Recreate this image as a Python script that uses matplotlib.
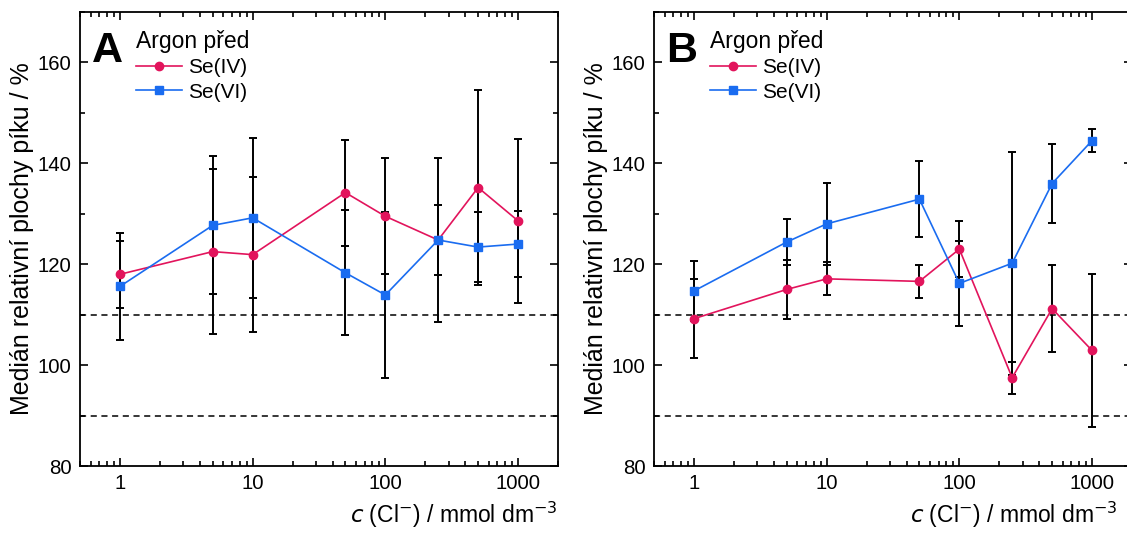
import numpy as np
import matplotlib.pyplot as plt
from matplotlib.ticker import LogLocator, MultipleLocator, FixedLocator, NullFormatter

plt.rcParams['font.family'] = ['Liberation Sans', 'DejaVu Sans']

conc = [1, 5, 10, 50, 100, 250, 500, 1000]

# panel A
a_se4 = [118.0, 122.5, 121.9, 134.2, 129.5, 124.8, 135.2, 128.6]
a_se4_err = [6.6, 16.4, 15.4, 10.5, 11.5, 16.2, 19.4, 16.2]
a_se6 = [115.6, 127.7, 129.2, 118.3, 113.9, 124.8, 123.4, 124.0]
a_se6_err = [10.6, 13.7, 15.8, 12.4, 16.4, 7.0, 6.9, 6.6]

# panel B
b_se4 = [109.2, 115.0, 117.1, 116.6, 123.0, 97.5, 111.2, 102.9]
b_se4_err = [7.8, 5.8, 3.3, 3.3, 5.5, 3.2, 8.6, 15.2]
b_se6 = [114.7, 124.4, 128.0, 132.9, 116.2, 120.2, 136.0, 144.5]
b_se6_err = [5.9, 4.6, 8.1, 7.6, 8.4, 22.1, 7.8, 2.3]

limits = [90, 110]
panels = [("A", a_se4, a_se4_err, a_se6, a_se6_err),
          ("B", b_se4, b_se4_err, b_se6, b_se6_err)]

red = "#E2145C"
blue = "#1A6CF0"

fig = plt.figure(figsize=(11.27, 5.49), dpi=100)
W, H = 1127, 549
boxes = [(80, 558), (654, 1132)]
top, bottom = 12, 466

for i, ((letter, s4, e4, s6, e6), (xl, xr)) in enumerate(zip(panels, boxes)):
    ax = fig.add_axes([xl / W, (H - bottom) / H, (xr - xl) / W, (bottom - top) / H])
    ax.set_xscale("log")
    ax.set_xlim(0.5, 2000)
    ax.set_ylim(80, 170)

    for lim in limits:
        ax.axhline(lim, color="black", lw=1.1, ls=(0, (4, 3)), zorder=1)

    ax.errorbar(conc, s4, yerr=e4, fmt="none", ecolor="black", elinewidth=1.4,
                capsize=3.2, capthick=1.4, zorder=2)
    ax.errorbar(conc, s6, yerr=e6, fmt="none", ecolor="black", elinewidth=1.4,
                capsize=3.2, capthick=1.4, zorder=2)
    ax.plot(conc, s4, color=red, lw=1.2, marker="o", ms=6, label="Se(IV)", zorder=3)
    ax.plot(conc, s6, color=blue, lw=1.2, marker="s", ms=5.2, label="Se(VI)", zorder=3)

    ax.yaxis.set_major_locator(FixedLocator([80, 100, 120, 140, 160]))
    ax.yaxis.set_minor_locator(MultipleLocator(10))
    ax.xaxis.set_major_locator(FixedLocator([1, 10, 100, 1000]))
    ax.set_xticklabels(["1", "10", "100", "1000"])
    ax.xaxis.set_minor_locator(LogLocator(base=10, subs=np.arange(2, 10)))
    ax.xaxis.set_minor_formatter(NullFormatter())
    ax.tick_params(which="both", direction="in", top=True, right=True, width=1.2)
    ax.tick_params(which="major", length=6, labelsize=14.7, pad=6)
    ax.tick_params(which="minor", length=3.5)
    for sp in ax.spines.values():
        sp.set_linewidth(1.3)

    ax.set_ylabel("Medián relativní plochy píku / %", fontsize=18, labelpad=3)
    ax.set_xlabel(r"$c$ (Cl$^{-}$) / mmol dm$^{-3}$", fontsize=16.5, loc="right", labelpad=5)
    if i == 1:
        ax.xaxis.label.set_x(0.97)

    ax.text(0.025, 0.89, letter, transform=ax.transAxes, fontsize=31, fontweight="bold",
            va="baseline", ha="left")
    leg = ax.legend(loc="upper left", bbox_to_anchor=(0.118, 0.96), frameon=False,
                    fontsize=15, handlelength=2.2, handletextpad=0.3,
                    labelspacing=0.25, borderaxespad=0, borderpad=0)
    leg.set_title("Argon před", prop={"size": 16.5})
    leg._legend_box.align = "left"

fig.savefig("out.png", dpi=100)
